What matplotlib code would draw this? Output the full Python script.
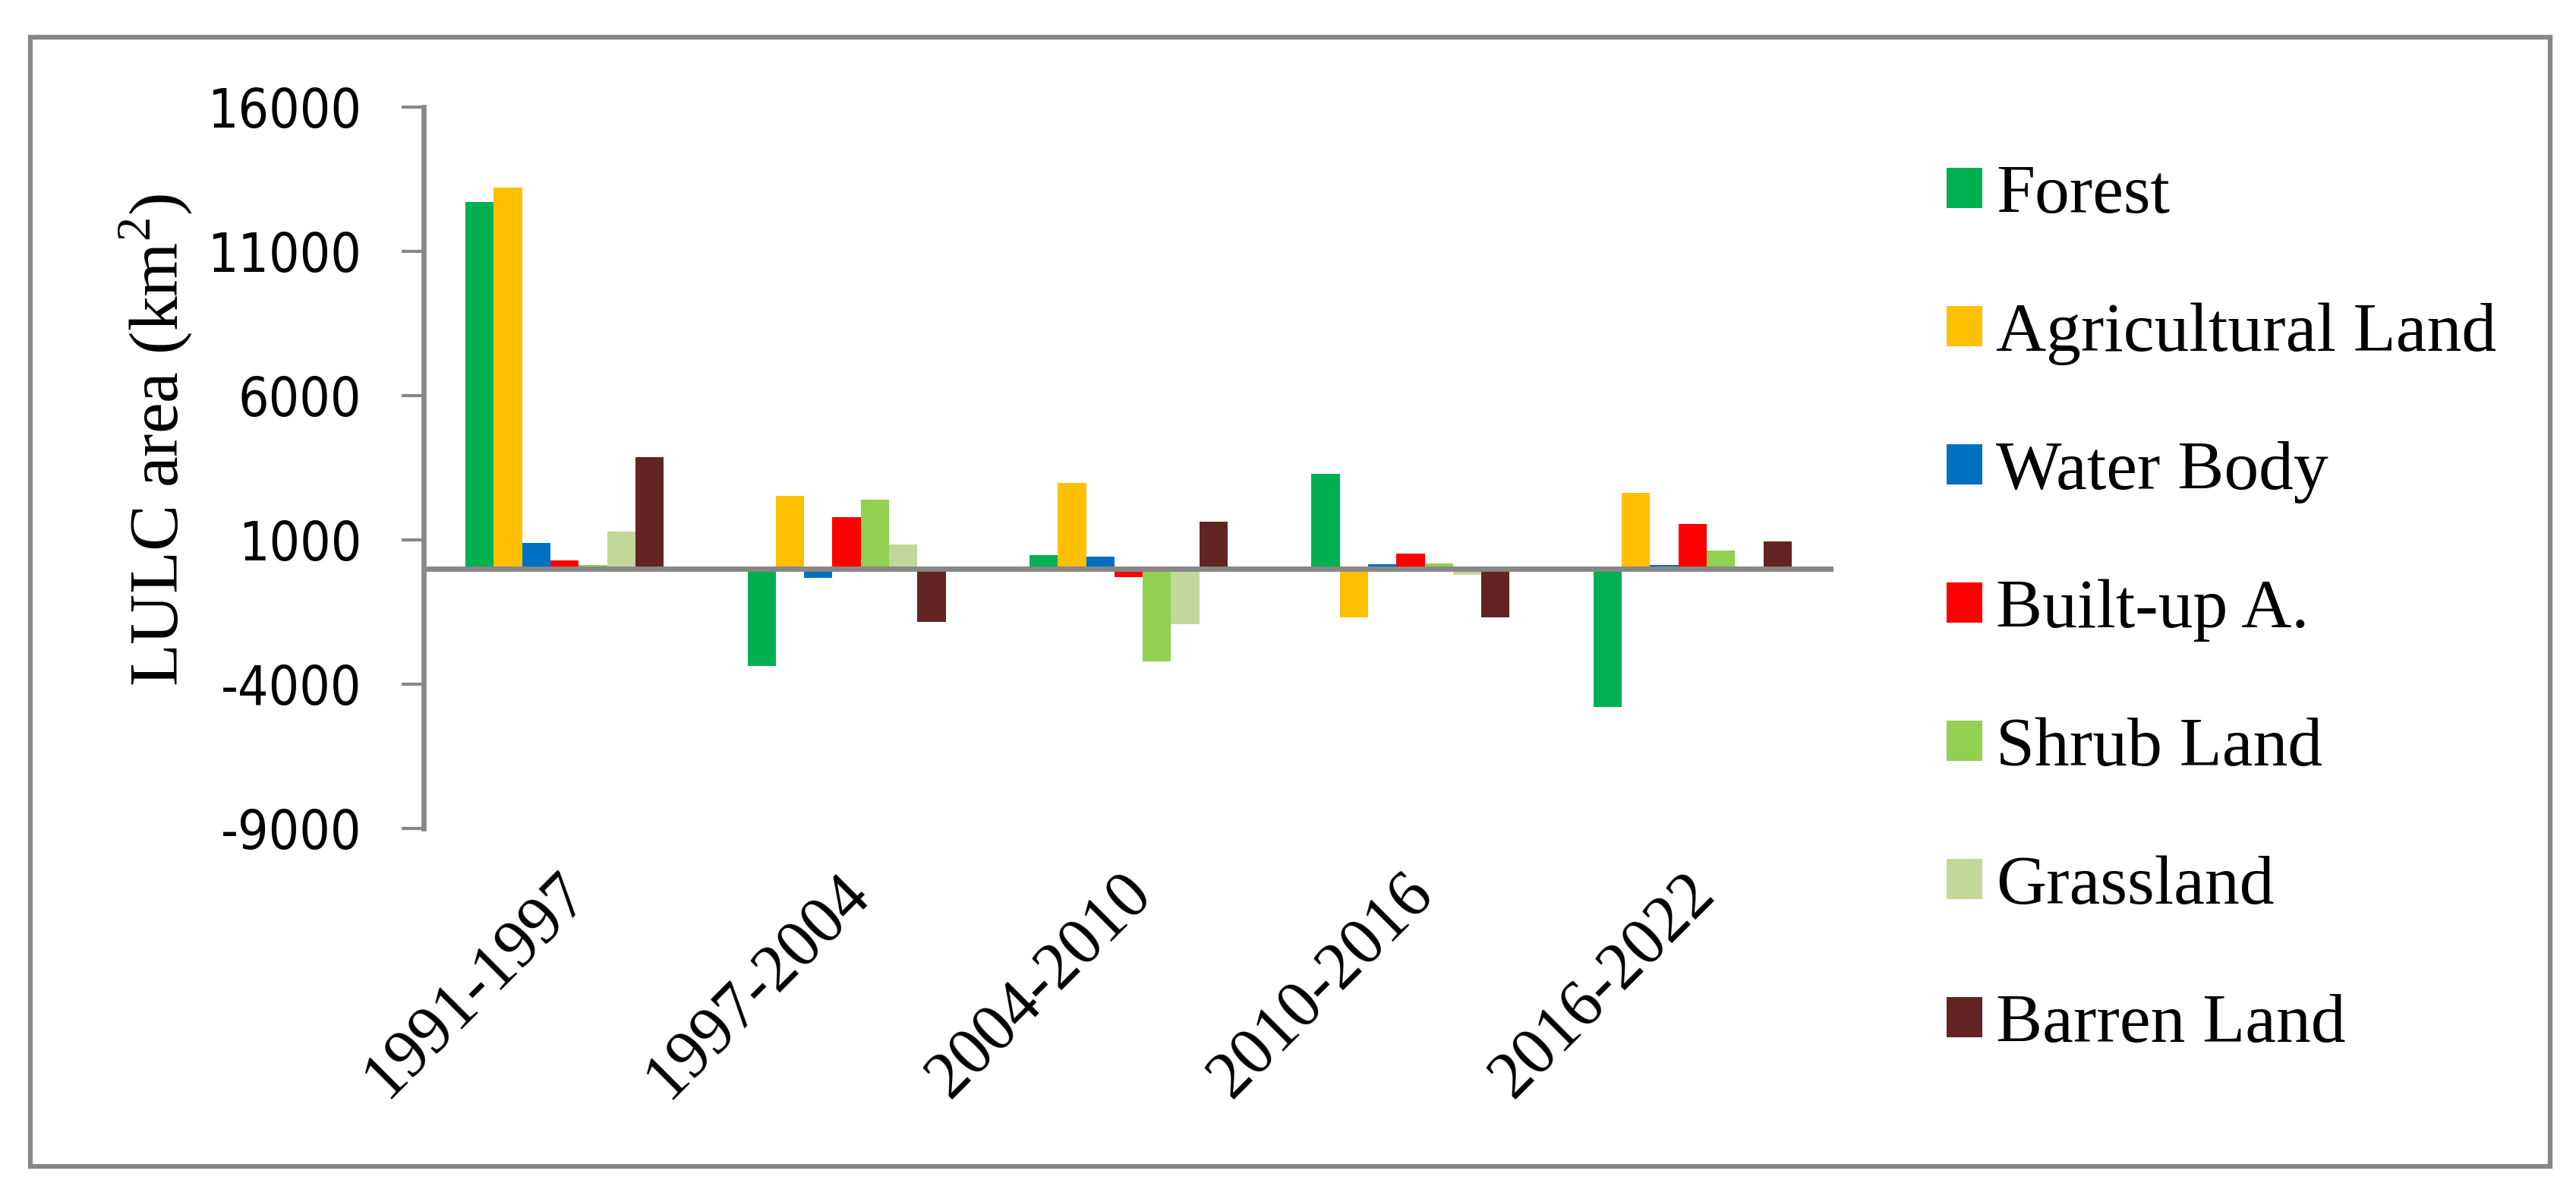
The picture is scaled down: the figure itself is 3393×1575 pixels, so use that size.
#!/usr/bin/env python3
import numpy as np
import matplotlib
matplotlib.use("Agg")
import matplotlib.pyplot as plt
import matplotlib.transforms as mtransforms
from matplotlib.patches import Rectangle

# Периоды и классы LULC
periods = ["1991-1997", "1997-2004", "2004-2010", "2010-2016", "2016-2022"]
classes = ["Forest", "Agricultural Land", "Water Body", "Built-up A.",
           "Shrub Land", "Grassland", "Barren Land"]

# Изменение площади, km2
forest = [12700, -3370, 460, 3290, -4800]
agri = [13200, 2530, 2970, -1700, 2630]
water = [880, -330, 410, 150, 120]
builtup = [280, 1770, -300, 520, 1550]
shrub = [120, 2380, -3230, 170, 620]
grass = [1270, 830, -1940, -220, 0]
barren = [3860, -1860, 1630, -1700, 950]

series = [forest, agri, water, builtup, shrub, grass, barren]
colors = ["#00B050", "#FFC000", "#0070C0", "#FF0000",
          "#92D050", "#C4D79B", "#632523"]

GRAY = "#878787"
SERIF = "Liberation Serif"

plt.rcParams["axes.unicode_minus"] = False
plt.rcParams["mathtext.fontset"] = "custom"
plt.rcParams["mathtext.rm"] = SERIF

W, H = 3393, 1575
fig = plt.figure(figsize=(W / 100, H / 100), dpi=100)
ax = fig.add_axes([558 / W, 1 - 1090.7 / H, (2415 - 558) / W, (1090.7 - 140.7) / H])

x = np.arange(len(periods))
bw = 0.1004
for i, (name, vals, col) in enumerate(zip(classes, series, colors)):
    ax.bar(x + (i - 3) * bw, vals, bw, color=col, label=name, linewidth=0, zorder=2)

ax.set_xlim(-0.5, 4.5)
ax.set_ylim(-9000, 16000)
ax.set_yticks(np.arange(-9000, 16001, 5000))
ax.axhline(0, color=GRAY, lw=5, zorder=3)

for s in ["top", "right", "bottom"]:
    ax.spines[s].set_visible(False)
ax.spines["left"].set_color(GRAY)
ax.spines["left"].set_linewidth(4.8)

ax.tick_params(axis="y", length=21, width=3, color=GRAY, pad=38, labelsize=51)
for lab in ax.get_yticklabels():
    lab.set_fontfamily("DejaVu Sans")
    lab.set_fontstretch("condensed")

ax.set_xticks(x)
ax.set_xticklabels(periods, rotation=45, ha="right", va="top",
                   rotation_mode="anchor", fontfamily=SERIF, fontsize=63)
ax.tick_params(axis="x", length=0, pad=32)
shift = mtransforms.ScaledTranslation(-0.12, 0, fig.dpi_scale_trans)
for lab in ax.get_xticklabels():
    lab.set_transform(lab.get_transform() + shift)

fig.text(0.0604, 0.632, r"LULC area (km$^{2}$)", rotation=90, ha="center",
         va="center", fontfamily=SERIF, fontsize=66)

fig.legend(loc="center left", bbox_to_anchor=(2564 / W, 1 - 804 / H),
           frameon=False, prop={"family": SERIF, "size": 66},
           handlelength=0.51, handleheight=0.51, handletextpad=0.2,
           labelspacing=1.085, borderpad=0, borderaxespad=0)

fig.patches.append(Rectangle((40 / W, 1 - 1536 / H), (3359 - 40) / W,
                             (1536 - 49) / H, transform=fig.transFigure,
                             fill=False, edgecolor=GRAY, lw=4.5))

fig.savefig("out.png", dpi=100)
print("Saved out.png")
